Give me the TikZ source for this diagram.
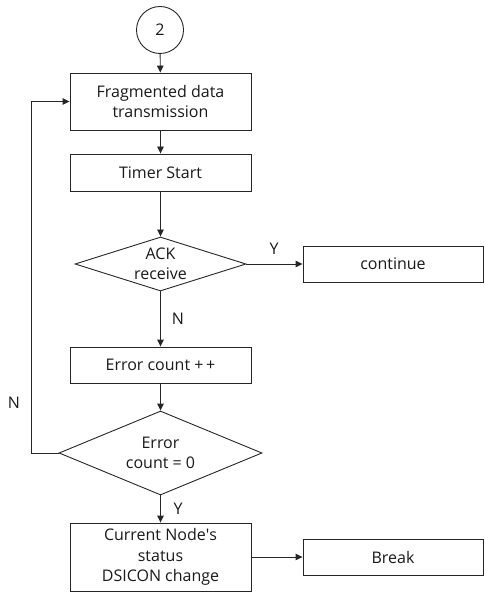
\documentclass[tikz,border=0pt]{standalone}
\usepackage{fontspec}
\setmainfont{Open Sans}
\usetikzlibrary{shapes.geometric,arrows.meta}
\begin{document}
\begin{tikzpicture}[x=1pt,y=-1pt,
  every node/.style={font=\fontsize{16}{20.5}\selectfont, text=black!90},
  line/.style={draw=black!85, line width=0.9pt},
  arr/.style={line, -{Triangle[length=7pt,width=6.5pt]}},
  proc/.style={line, rectangle, inner sep=0pt, align=center},
  dec/.style={line, diamond, inner sep=0pt},
  conn/.style={line, circle, inner sep=0pt, minimum size=47pt},
  lbl/.style={inner sep=0pt}
]
\useasboundingbox (0,0) rectangle (484,593);

% start connector
\node[conn] (start) at (160,30) {2};

% process boxes
\node[proc, minimum width=181pt, minimum height=57pt] (frag) at (160.5,101.5) {Fragmented data\\transmission};
\node[proc, minimum width=181pt, minimum height=37pt] (timer) at (160.5,172.5) {Timer Start};
\node[proc, minimum width=181pt, minimum height=36pt] (err) at (160.5,365) {Error count +\,+};
\node[proc, minimum width=181pt, minimum height=68pt] (cur) at (160.5,557) {Current Node\textquotesingle s\\status\\DSICON change};
\node[proc, minimum width=180pt, minimum height=36pt] (cont) at (393,264) {continue};
\node[proc, minimum width=180pt, minimum height=36pt] (brk) at (393,557) {Break};

% decisions
\node[dec, minimum width=171pt, minimum height=54pt,
      label={[align=center]center:ACK\\receive}] (ack) at (160.5,264) {};
\node[dec, minimum width=203pt, minimum height=84pt,
      label={[align=center]center:Error\\count = 0}] (zero) at (160.5,453) {};

% flow
\draw[arr] (start) -- (frag);
\draw[arr] (frag) -- (timer);
\draw[arr] (timer) -- (ack);
\draw[arr] (ack) -- (err);
\draw[arr] (ack) -- (cont);
\draw[arr] (err) -- (zero);
\draw[arr] (zero) -- (cur);
\draw[arr] (cur) -- (brk);
\draw[arr] (zero.west) -| (31,101.5) -- (frag.west);

% branch labels
\node[lbl] (ackY) at (274,249) {Y};
\node[lbl] (ackN) at (178,319) {N};
\node[lbl] (zeroN) at (14,403) {N};
\node[lbl] (zeroY) at (178,509) {Y};
\end{tikzpicture}
\end{document}
